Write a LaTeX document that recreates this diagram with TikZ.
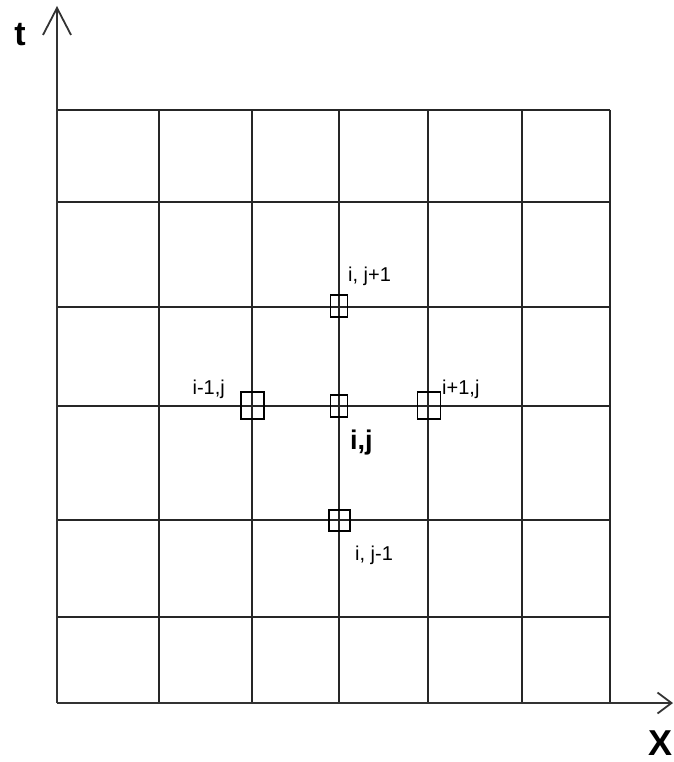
\documentclass[tikz,border=0pt]{standalone}
\usepackage{fontspec}
\setmainfont{Liberation Sans}
\usetikzlibrary{arrows.meta}

\begin{document}
\begin{tikzpicture}[x=1pt, y=-1pt,
  gl/.style={line width=1.4pt, draw=black!85},
  ax/.style={line width=1.8pt, draw=black!80},
  pt/.style={draw, line width=1.5pt, inner sep=0pt, minimum width=17pt, minimum height=22pt},
  bigpt/.style={pt, minimum width=23pt, minimum height=27pt},
  lbl/.style={anchor=base west, inner sep=0pt, font=\fontsize{20}{22}\selectfont},
  axl/.style={inner sep=0pt, font=\fontsize{34}{36}\selectfont\bfseries}]
\useasboundingbox (0,0) rectangle (673,762);
% grid
\foreach \gx in {57,159,252,339,428,522,610}
  \draw[gl] (\gx,110) -- (\gx,703);
\foreach \gy in {110,202,307,406,520,617,703}
  \draw[gl] (57,\gy) -- (610,\gy);
% axes
\coordinate (o) at (57,703);
\coordinate (ttip) at (57,6);
\coordinate (xtip) at (673,703);
\draw[ax, -{Straight Barb[length=27pt, width=28pt]}] (o) -- (ttip);
\draw[ax, -{Straight Barb[length=14pt, width=21pt]}] (o) -- (xtip);
\node[axl] (tlab) at (20,35) {t};
\node[axl, font=\fontsize{36}{38}\selectfont\bfseries] (xlab) at (660,743) {X};
% stencil points
\node[pt] (ij) at (339,406) {};
\node[pt] (ijp) at (339,306) {};
\node[bigpt] (imj) at (252.5,405.5) {};
\node[bigpt] (ipj) at (429,405.5) {};
\node[pt, minimum width=21pt, minimum height=21pt] (ijm) at (339.5,520.5) {};
\node[lbl] (lijp) at (348,281) {i, j+1};
\node[lbl, anchor=base east] (limj) at (225,394) {i-1,j};
\node[lbl] (lipj) at (442,394) {i+1,j};
\node[lbl, font=\fontsize{27}{29}\selectfont\bfseries] (lij) at (350,449) {i,j};
\node[lbl] (lijm) at (355,560) {i, j-1};
\end{tikzpicture}
\end{document}
